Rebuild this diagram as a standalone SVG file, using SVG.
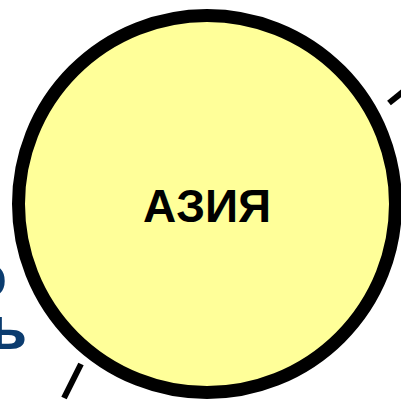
<svg xmlns="http://www.w3.org/2000/svg" width="401" height="400" viewBox="0 0 401 400">
<style>
.lbl{font-family:"Liberation Sans",Arial,sans-serif;font-weight:bold}
.side{fill:#0b3c6f;font-size:62px}
.tick{stroke:#000;stroke-width:6;fill:none}
</style>
<rect width="401" height="400" fill="#fff"/>
<g id="side-text">
<text class="lbl side" x="7" y="297" text-anchor="end">о</text>
<text class="lbl side" x="27" y="349" text-anchor="end">ь</text>
</g>
<g id="connectors">
<line class="tick" x1="389" y1="103" x2="404" y2="91"/>
<line class="tick" x1="81" y1="364" x2="64" y2="398"/>
</g>
<g id="asia">
<circle cx="207" cy="204" r="188.5" fill="#ffff99" stroke="#000" stroke-width="13"/>
<text class="lbl" x="207" y="222" font-size="46" text-anchor="middle" fill="#000">АЗИЯ</text>
</g>
</svg>
